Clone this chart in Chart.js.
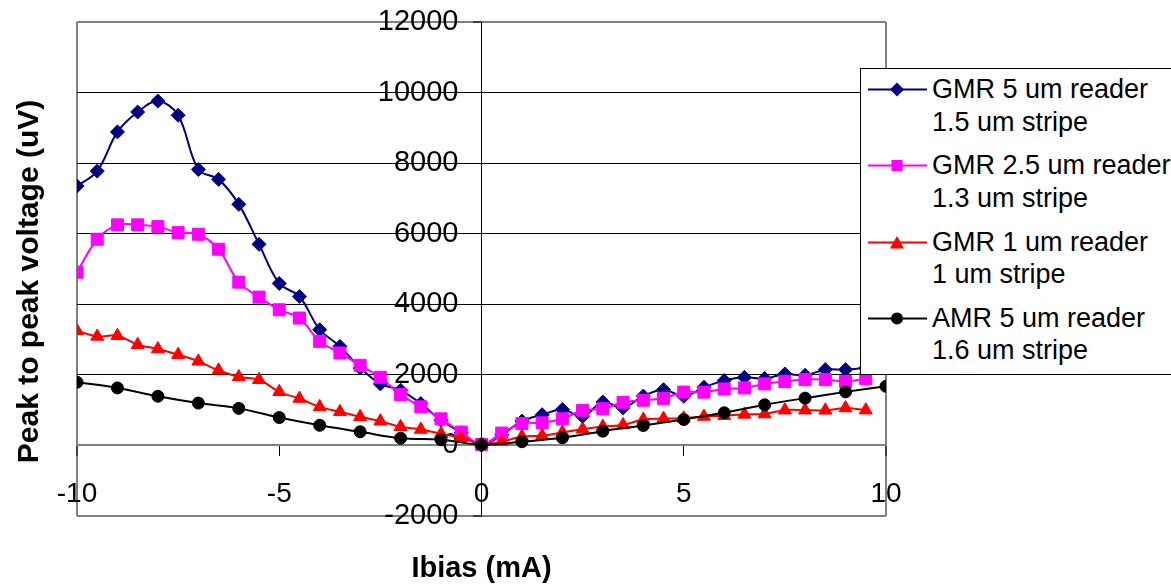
<!DOCTYPE html>
<html><head><meta charset="utf-8">
<script src="https://cdn.jsdelivr.net/npm/chart.js@4"></script>
<style>
html,body{margin:0;padding:0;background:#fff;overflow:hidden;}
#wrap{position:relative;width:1171px;height:586px;overflow:hidden;}
#c{position:absolute;left:0;top:0;}
#legend{position:absolute;left:860px;top:68px;width:330px;height:305px;border:1px solid #000;background:#fff;font-family:"Liberation Sans",Arial,sans-serif;font-size:27px;color:#000;}
.item{position:absolute;left:0;height:66px;width:330px;}
.item svg{position:absolute;left:6px;top:0;}
.item .txt{position:absolute;left:71px;top:0;line-height:32.5px;white-space:nowrap;}
</style></head>
<body>
<div id="wrap">
<canvas id="c" width="1171" height="586"></canvas>
<div id="legend"></div>
</div>
<script>
// ---- data ----
const xHalf = [-10,-9.5,-9,-8.5,-8,-7.5,-7,-6.5,-6,-5.5,-5,-4.5,-4,-3.5,-3,-2.5,-2,-1.5,-1,-0.5,
               0,0.5,1,1.5,2,2.5,3,3.5,4,4.5,5,5.5,6,6.5,7,7.5,8,8.5,9,9.5];
const xWhole = [-10,-9,-8,-7,-6,-5,-4,-3,-2,-1,0,1,2,3,4,5,6,7,8,9,10];

const gmr5um = [7350,7774,8885,9450,9760,9357,7820,7540,6832,5700,4590,4220,3280,2807,2196,1744,1563,1187,715,359,
                0,300,690,870,1020,820,1230,1065,1400,1580,1394,1649,1837,1931,1894,2026,1988,2148,2148,2196];
const gmr25um = [4910,5843,6250,6250,6200,6030,5985,5560,4627,4203,3845,3610,2950,2620,2270,1931,1442,1093,754,377,
                 30,350,620,640,754,995,1040,1224,1281,1335,1512,1512,1600,1630,1744,1810,1866,1866,1810,1894];
const gmr1um = [3250,3090,3110,2855,2733,2572,2383,2129,1942,1860,1520,1329,1093,952,811,688,529,452,330,217,
                40,110,250,275,370,460,535,580,735,760,770,820,840,880,890,1000,1000,995,1060,1000];
const amr5um = [1790,1630,1394,1200,1050,790,570,387,205,160,20,105,217,405,565,735,924,1150,1340,1518,1676];

const seriesLabels = [
  ["GMR 5 um reader","1.5 um stripe"],
  ["GMR 2.5 um reader","1.3 um stripe"],
  ["GMR 1 um reader","1 um stripe"],
  ["AMR 5 um reader","1.6 um stripe"]
];
const seriesColors = ["#000080","#FF00FF","#FF0000","#000000"];
const seriesStyles = ["rectRot","rect","triangle","circle"];

const xAxisTitle = "Ibias (mA)";
const yAxisTitle = "Peak to peak voltage (uV)";
const xMin = -10, xMax = 10, xStep = 5;
const yMin = -2000, yMax = 12000, yStep = 2000;

// ---- build chart ----
const pts = (xs, ys) => xs.map((x, i) => ({x: x, y: ys[i]}));
const FONT = '"Liberation Sans", Arial, sans-serif';
const GRAY = '#808080';
const radii = [7, 8.5, 7.5, 6];
const allData = [pts(xHalf, gmr5um), pts(xHalf, gmr25um), pts(xHalf, gmr1um), pts(xWhole, amr5um)];

const datasets = allData.map((d, i) => ({
  label: seriesLabels[i].join(' '),
  data: d,
  borderColor: seriesColors[i],
  backgroundColor: seriesColors[i],
  pointBackgroundColor: seriesColors[i],
  pointBorderColor: seriesColors[i],
  pointBorderWidth: 1,
  pointStyle: seriesStyles[i],
  pointRadius: radii[i],
  borderWidth: 2,
  tension: 0.35,
  fill: false,
  order: 3 - i
}));

const isFrameY = v => v === yMax || v === yMin || v === 0;
const isFrameX = v => v === xMin || v === xMax;

new Chart(document.getElementById('c'), {
  type: 'line',
  data: { datasets: datasets },
  options: {
    responsive: false,
    animation: false,
    devicePixelRatio: 1,
    layout: { padding: { top: 22, right: 285, left: 0, bottom: 0 } },
    plugins: { legend: { display: false }, tooltip: { enabled: false } },
    scales: {
      x: {
        type: 'linear',
        position: { y: 0 },
        min: xMin, max: xMax,
        ticks: { stepSize: xStep, color: '#000', font: { family: FONT, size: 28 }, padding: 22, maxRotation: 0 },
        grid: {
          drawOnChartArea: true,
          color: c => (c.tick && isFrameX(c.tick.value)) ? GRAY : 'rgba(0,0,0,0)',
          lineWidth: c => (c.tick && isFrameX(c.tick.value)) ? 2 : 1,
          tickColor: '#000', tickWidth: 1, tickLength: 10
        },
        border: { display: true, color: GRAY, width: 2 }
      },
      y: {
        type: 'linear',
        position: 'center',
        min: yMin, max: yMax,
        ticks: { stepSize: yStep, color: '#000', font: { family: FONT, size: 29, lineHeight: 0.4 }, padding: 15,
                 callback: v => String(v) },
        grid: {
          color: c => (c.tick && isFrameY(c.tick.value)) ? GRAY : '#000',
          lineWidth: c => (c.tick && isFrameY(c.tick.value)) ? 2 : 1,
          tickColor: '#000', tickWidth: 1, tickLength: 8
        },
        border: { display: true, color: '#000', width: 1 }
      },
      yTitle: {
        type: 'linear', position: 'left', axis: 'y',
        ticks: { display: false }, grid: { display: false }, border: { display: false },
        title: { display: true, text: yAxisTitle + '   ', color: '#000', font: { family: FONT, size: 30, weight: 'bold' }, padding: { top: 12, bottom: 0 } },
        afterFit: s => { s.width = 77; }
      },
      xTitle: {
        type: 'linear', position: 'bottom', axis: 'x',
        ticks: { display: false }, grid: { display: false }, border: { display: false },
        title: { display: true, text: xAxisTitle, color: '#000', font: { family: FONT, size: 29, weight: 'bold' }, padding: { top: 0, bottom: 0 } },
        afterFit: s => { s.height = 70; }
      }
    }
  }
});

// ---- HTML legend (text kept as real text) ----
function markerSvg(i) {
  const c = seriesColors[i];
  let m = '';
  if (i === 0) m = '<polygon points="30,9.5 37,16.5 30,23.5 23,16.5" fill="' + c + '"/>';
  else if (i === 1) m = '<rect x="24.5" y="11" width="11" height="11" fill="' + c + '"/>';
  else if (i === 2) m = '<polygon points="30,10 37,22.5 23,22.5" fill="' + c + '"/>';
  else m = '<circle cx="30" cy="16.5" r="6" fill="' + c + '"/>';
  return '<svg width="62" height="33" viewBox="0 0 62 33"><line x1="1" y1="16.5" x2="60" y2="16.5" stroke="' + c + '" stroke-width="2"/>' + m + '</svg>';
}
const leg = document.getElementById('legend');
seriesLabels.forEach((lines, i) => {
  const d = document.createElement('div');
  d.className = 'item';
  d.style.top = (4 + i * 76.3) + 'px';
  d.innerHTML = markerSvg(i) + '<div class="txt">' + lines.join('<br>') + '</div>';
  leg.appendChild(d);
});
</script>
</body></html>
